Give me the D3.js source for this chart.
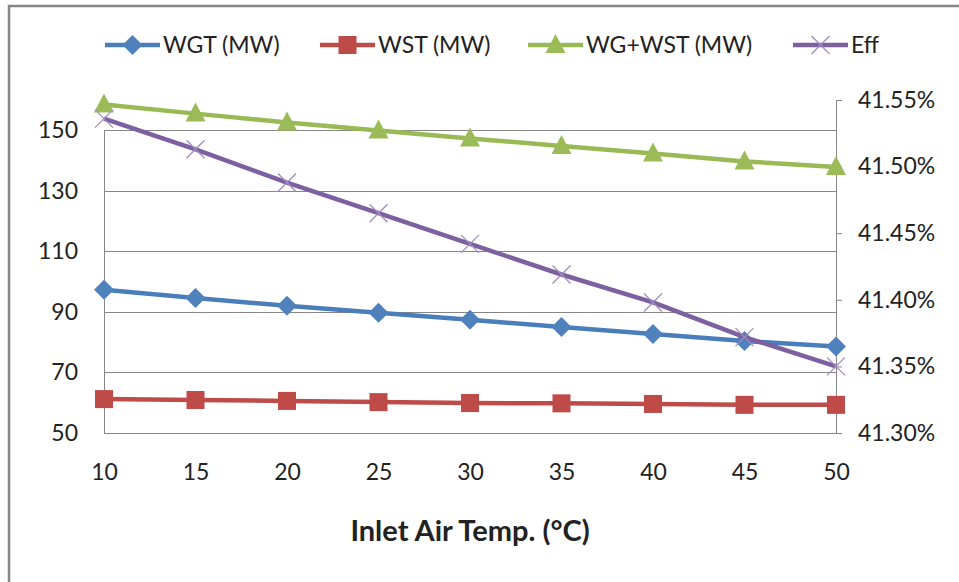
<!DOCTYPE html>
<html>
<head>
<meta charset="utf-8">
<script src="https://d3js.org/d3.v7.min.js"></script>
<style>
  body { margin: 0; background: #fff; }
  text { font-family: Lato, "Open Sans", sans-serif; fill: #222; }
</style>
</head>
<body>
<svg id="chart"></svg>
<script>
var temps = [10, 15, 20, 25, 30, 35, 40, 45, 50];
var wgt = [97.3, 94.6, 92.0, 89.7, 87.4, 85.0, 82.7, 80.4, 78.6];
var wst = [61.2, 60.9, 60.6, 60.2, 59.9, 59.8, 59.6, 59.3, 59.3];
var wsum = [158.5, 155.5, 152.6, 149.9, 147.3, 144.8, 142.3, 139.7, 137.9];
var eff = [41.536, 41.513, 41.488, 41.465, 41.442, 41.419, 41.398, 41.372, 41.350];
var leftTicks = [50, 70, 90, 110, 130, 150];
var rightTicks = [41.30, 41.35, 41.40, 41.45, 41.50, 41.55];

var W = 959, H = 582;
var svg = d3.select("#chart").attr("width", W).attr("height", H);

// outer frame (right and bottom edges run off the picture)
svg.append("rect")
   .attr("x", 9).attr("y", 6)
   .attr("width", W + 10).attr("height", H + 10)
   .attr("fill", "none").attr("stroke", "#868686").attr("stroke-width", 2.5);

var plotL = 104, plotR = 836, plotT = 100, plotB = 433;

var x = d3.scaleLinear().domain([10, 50]).range([plotL, plotR]);
var yL = d3.scaleLinear().domain([50, 160]).range([plotB, plotT]);
var yR = d3.scaleLinear().domain([41.30, 41.55]).range([plotB, plotT]);

// gridlines
svg.append("g").selectAll("line").data(leftTicks.slice(1)).enter().append("line")
   .attr("x1", plotL).attr("x2", plotR)
   .attr("y1", function(d){ return Math.round(yL(d)) + 0.5; })
   .attr("y2", function(d){ return Math.round(yL(d)) + 0.5; })
   .attr("stroke", "#868686").attr("stroke-width", 1);

// left axis
var axL = svg.append("g").attr("transform", "translate(" + plotL + ",0)")
   .call(d3.axisLeft(yL).tickValues(leftTicks).tickSize(0).tickPadding(26));
axL.select(".domain").remove();
axL.append("line").attr("x1", 0.5).attr("x2", 0.5)
   .attr("y1", yL(150)).attr("y2", plotB).attr("stroke", "#868686");
axL.selectAll("text").style("font-size", "23px").style("font-family", null);

// right axis
var axR = svg.append("g").attr("transform", "translate(" + plotR + ",0)")
   .call(d3.axisRight(yR).tickValues(rightTicks).tickSize(6).tickPadding(16)
     .tickFormat(function(d){ return d.toFixed(2) + "%"; }));
axR.selectAll("line, path").attr("stroke", "#868686");
axR.selectAll("text").style("font-size", "23px").style("font-family", null);

// bottom axis
var axB = svg.append("g").attr("transform", "translate(0," + plotB + ")")
   .call(d3.axisBottom(x).tickValues(temps).tickSize(0).tickPadding(31));
axB.select(".domain").attr("stroke", "#868686").attr("d", "M" + plotL + ",0.5H" + plotR);
axB.selectAll("text").style("font-size", "23px").style("font-family", null);

svg.append("text")
   .attr("x", 470).attr("y", 541)
   .attr("text-anchor", "middle")
   .style("font-size", "29px").style("font-weight", "bold")
   .text("Inlet Air Temp. (\u00B0C)");

var series = [
  { name: "WGT (MW)", vals: wgt, y: yL, color: "#4F81BD", line: "#4A7EBB", shape: "diamond" },
  { name: "WST (MW)", vals: wst, y: yL, color: "#BE4B48", line: "#BE4B48", shape: "square" },
  { name: "WG+WST (MW)", vals: wsum, y: yL, color: "#9BBB59", line: "#98B954", shape: "triangle" },
  { name: "Eff", vals: eff, y: yR, color: "#8064A2", line: "#7D60A0", shape: "cross" }
];

function drawMarker(g, shape, color) {
  if (shape === "diamond") {
    g.append("path").attr("d", "M0,-10L10,0L0,10L-10,0Z").attr("fill", color);
  } else if (shape === "square") {
    g.append("rect").attr("x", -9).attr("y", -9).attr("width", 18).attr("height", 18).attr("fill", color);
  } else if (shape === "triangle") {
    g.append("path").attr("d", "M0,-11L10,8L-10,8Z").attr("fill", color);
  } else {
    g.append("path").attr("d", "M-9,-9L9,9M-9,9L9,-9")
      .attr("stroke", "#A08CC0").attr("stroke-width", 1.3).attr("fill", "none");
  }
}

series.forEach(function(s) {
  var line = d3.line()
    .x(function(d, i){ return x(temps[i]); })
    .y(function(d){ return s.y(d); });
  svg.append("path").datum(s.vals)
     .attr("d", line).attr("fill", "none")
     .attr("stroke", s.line).attr("stroke-width", 4.5).attr("stroke-linejoin", "round");
  svg.append("g").selectAll("g").data(s.vals).enter().append("g")
     .attr("transform", function(d, i){ return "translate(" + x(temps[i]) + "," + s.y(d) + ")"; })
     .each(function(){ drawMarker(d3.select(this), s.shape, s.color); });
});

// legend
var legX = [105, 320, 528, 793];
series.forEach(function(s, i) {
  var g = svg.append("g").attr("transform", "translate(" + legX[i] + ",45)");
  g.append("line").attr("x1", 0).attr("x2", 55).attr("y1", 0).attr("y2", 0)
   .attr("stroke", s.line).attr("stroke-width", 4.5);
  drawMarker(g.append("g").attr("transform", "translate(27.5,0)"), s.shape, s.color);
  g.append("text").attr("x", 58).attr("y", 8).style("font-size", "23px").text(s.name);
});
</script>
</body>
</html>
